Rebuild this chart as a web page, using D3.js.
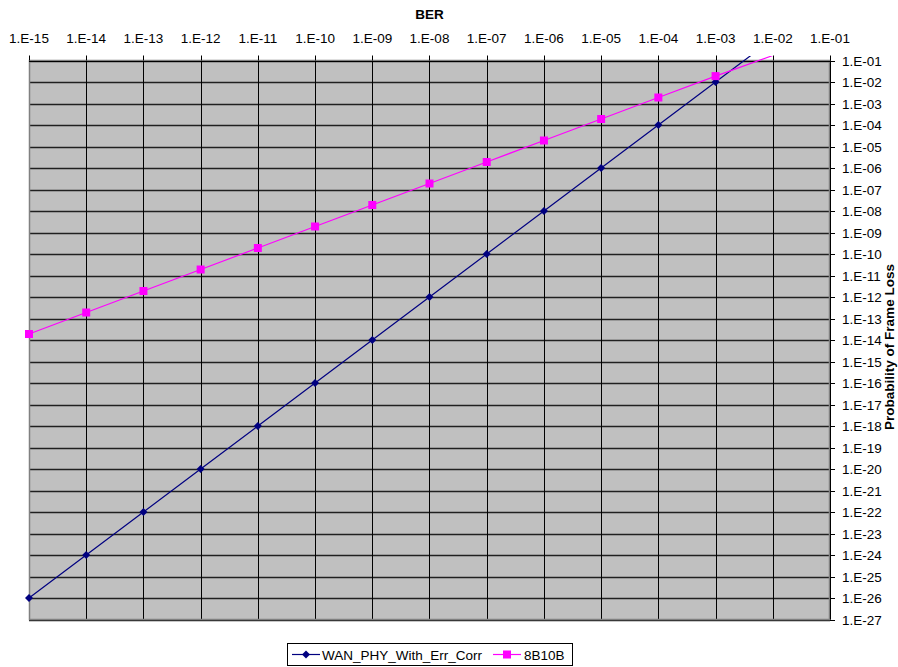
<!DOCTYPE html>
<html><head><meta charset="utf-8">
<script src="https://cdn.jsdelivr.net/npm/d3@7"></script>
<style>body{margin:0;background:#fff}svg{display:block;font-family:"Liberation Sans",Arial,sans-serif}</style>
</head><body><svg id="c" width="898" height="667"></svg>
<script>
const berValues = [1e-15,1e-14,1e-13,1e-12,1e-11,1e-10,1e-9,1e-8,1e-7,1e-6,1e-5,1e-4,1e-3,1e-2];
const wanValues = [1e-26,1e-24,1e-22,1e-20,1e-18,1e-16,1e-14,1e-12,1e-10,1e-8,1e-6,1e-4,1e-2,1];
const b8b10bValues = [1.9e-14,1.9e-13,1.9e-12,1.9e-11,1.9e-10,1.9e-9,1.9e-8,1.9e-7,1.9e-6,1.9e-5,1.9e-4,1.9e-3,1.88e-2,0.17];
const xTickExps = d3.range(-15, 0);   // 1.E-15 .. 1.E-01
const yTickExps = d3.range(-1, -28, -1); // 1.E-01 .. 1.E-27
const seriesNames = ["WAN_PHY_With_Err_Corr", "8B10B"];

const svg = d3.select("#c");
const L = 29, R = 830, T = 60.5, B = 619.5;
const x = d3.scaleLog().domain([1e-15, 1e-1]).range([L, R]);
const y = d3.scaleLog().domain([1e-1, 1e-27]).range([T, B]);
const fmt = e => "1.E-" + String(-e).padStart(2, "0");
const fs = "13.5px";

svg.append("rect").attr("x", L).attr("y", T).attr("width", R - L).attr("height", B - T).attr("fill", "#c0c0c0");

const cx = v => Math.round(x(v)) + 0.5;
const cy = v => Math.round(y(v)) + 0.5;

// horizontal gridlines
svg.append("g").selectAll("line").data(yTickExps).join("line")
  .attr("x1", L).attr("x2", R)
  .attr("y1", d => cy(Math.pow(10, d))).attr("y2", d => cy(Math.pow(10, d)))
  .attr("stroke", "#202020").attr("stroke-width", 1.3);
// vertical gridlines
svg.append("g").selectAll("line").data(xTickExps).join("line")
  .attr("y1", T).attr("y2", B)
  .attr("x1", d => cx(Math.pow(10, d))).attr("x2", d => cx(Math.pow(10, d)))
  .attr("stroke", "#000").attr("stroke-width", 1);

// plot border
svg.append("rect").attr("x", L + 0.5).attr("y", T).attr("width", R - L - 1).attr("height", B - T)
  .attr("fill", "none").attr("stroke", "#808080").attr("stroke-width", 1.5);
// top axis line & ticks
svg.append("line").attr("x1", L).attr("x2", R).attr("y1", Math.round(T) + 0.5).attr("y2", Math.round(T) + 0.5).attr("stroke", "#000");
svg.append("g").selectAll("line").data(xTickExps).join("line")
  .attr("x1", d => cx(Math.pow(10, d))).attr("x2", d => cx(Math.pow(10, d)))
  .attr("y1", T - 5).attr("y2", T).attr("stroke", "#000");
svg.append("g").selectAll("text").data(xTickExps).join("text")
  .attr("x", d => x(Math.pow(10, d))).attr("y", 43)
  .attr("text-anchor", "middle").attr("font-size", fs).text(fmt);
// right axis line & ticks
svg.append("line").attr("x1", R + 0.5).attr("x2", R + 0.5).attr("y1", T).attr("y2", B).attr("stroke", "#000");
svg.append("g").selectAll("line").data(yTickExps).join("line")
  .attr("x1", R).attr("x2", R + 5)
  .attr("y1", d => cy(Math.pow(10, d))).attr("y2", d => cy(Math.pow(10, d))).attr("stroke", "#000");
svg.append("g").selectAll("text").data(yTickExps).join("text")
  .attr("x", 842).attr("y", d => y(Math.pow(10, d)) + 5)
  .attr("font-size", fs).text(fmt);

// titles
svg.append("text").attr("x", (L + R) / 2).attr("y", 19).attr("text-anchor", "middle")
  .attr("font-size", fs).attr("font-weight", "bold").text("BER");
svg.append("text").attr("transform", "translate(894,347) rotate(-90)").attr("text-anchor", "middle")
  .attr("font-size", fs).attr("font-weight", "bold").text("Probability of Frame Loss");

// series
const defs = svg.append("defs");
defs.append("clipPath").attr("id", "clip")
  .append("rect").attr("x", 0).attr("y", 56).attr("width", 898).attr("height", 600);
defs.append("clipPath").attr("id", "clipPlot")
  .append("rect").attr("x", L - 6).attr("y", T).attr("width", R - L + 12).attr("height", B - T + 6);
const g = svg.append("g").attr("clip-path", "url(#clip)");
const gm = svg.append("g").attr("clip-path", "url(#clipPlot)");
const line = d3.line().x(d => x(d[0])).y(d => y(d[1]));
const wan = berValues.map((b, i) => [b, wanValues[i]]);
const p8 = berValues.map((b, i) => [b, b8b10bValues[i]]);
g.append("path").attr("d", line(wan)).attr("fill", "none").attr("stroke", "#000080").attr("stroke-width", 1.2);
g.append("path").attr("d", line(p8)).attr("fill", "none").attr("stroke", "#ff00ff").attr("stroke-width", 1.2);
const diamond = "M0,-4L4,0L0,4L-4,0Z";
gm.selectAll(".dm").data(wan.filter(d => y(d[1]) >= T)).join("path").attr("class", "dm")
  .attr("transform", d => `translate(${x(d[0])},${y(d[1])})`).attr("d", diamond).attr("fill", "#000080");
gm.selectAll(".sq").data(p8.filter(d => y(d[1]) >= T)).join("rect").attr("class", "sq")
  .attr("x", d => x(d[0]) - 4).attr("y", d => y(d[1]) - 4).attr("width", 8).attr("height", 8).attr("fill", "#ff00ff");

// legend
const lg = svg.append("g");
lg.append("rect").attr("x", 287.5).attr("y", 643.5).attr("width", 285).attr("height", 22).attr("fill", "#fff").attr("stroke", "#000");
lg.append("line").attr("x1", 292).attr("x2", 320).attr("y1", 654.5).attr("y2", 654.5).attr("stroke", "#000080").attr("stroke-width", 1.2);
lg.append("path").attr("transform", "translate(306,654.5)").attr("d", diamond).attr("fill", "#000080");
lg.append("text").attr("x", 322).attr("y", 659.5).attr("font-size", fs).text(seriesNames[0]);
lg.append("line").attr("x1", 493).attr("x2", 521).attr("y1", 654.5).attr("y2", 654.5).attr("stroke", "#ff00ff").attr("stroke-width", 1.2);
lg.append("rect").attr("x", 503).attr("y", 650.5).attr("width", 8).attr("height", 8).attr("fill", "#ff00ff");
lg.append("text").attr("x", 524).attr("y", 659.5).attr("font-size", fs).text(seriesNames[1]);
</script></body></html>
